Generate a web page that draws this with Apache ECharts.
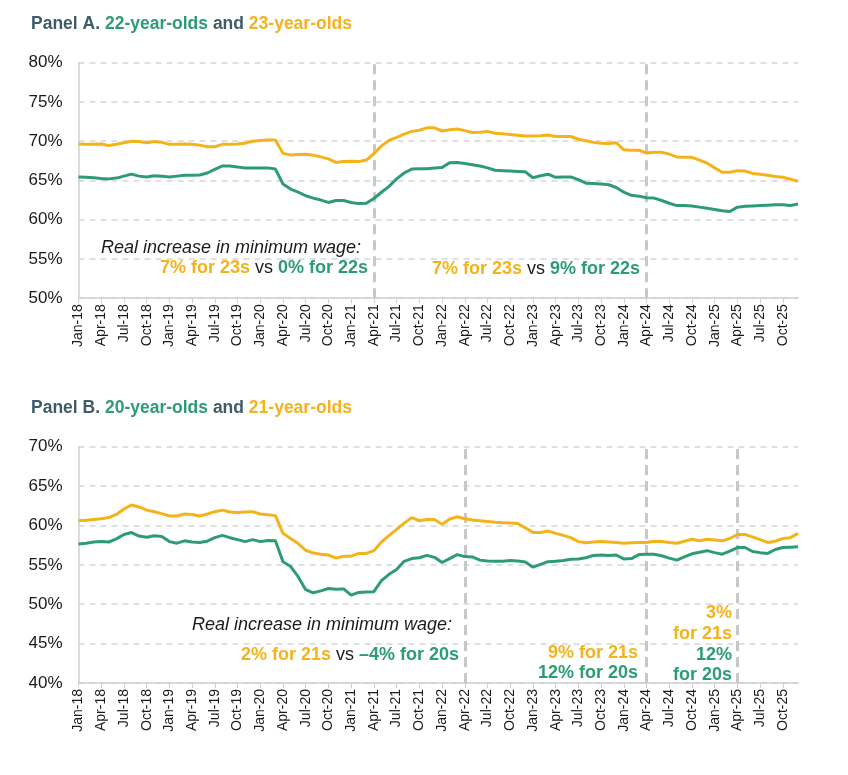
<!DOCTYPE html>
<html>
<head>
<meta charset="utf-8">
<script src="https://cdn.jsdelivr.net/npm/echarts@6/dist/echarts.min.js"></script>
<style>html,body{margin:0;padding:0;background:#fff}#c{width:848px;height:775px}</style>
</head>
<body>
<div id="c"></div>
<script>
const months = [
'Jan-18','Feb-18','Mar-18','Apr-18','May-18','Jun-18','Jul-18','Aug-18','Sep-18','Oct-18','Nov-18','Dec-18',
'Jan-19','Feb-19','Mar-19','Apr-19','May-19','Jun-19','Jul-19','Aug-19','Sep-19','Oct-19','Nov-19','Dec-19',
'Jan-20','Feb-20','Mar-20','Apr-20','May-20','Jun-20','Jul-20','Aug-20','Sep-20','Oct-20','Nov-20','Dec-20',
'Jan-21','Feb-21','Mar-21','Apr-21','May-21','Jun-21','Jul-21','Aug-21','Sep-21','Oct-21','Nov-21','Dec-21',
'Jan-22','Feb-22','Mar-22','Apr-22','May-22','Jun-22','Jul-22','Aug-22','Sep-22','Oct-22','Nov-22','Dec-22',
'Jan-23','Feb-23','Mar-23','Apr-23','May-23','Jun-23','Jul-23','Aug-23','Sep-23','Oct-23','Nov-23','Dec-23',
'Jan-24','Feb-24','Mar-24','Apr-24','May-24','Jun-24','Jul-24','Aug-24','Sep-24','Oct-24','Nov-24','Dec-24',
'Jan-25','Feb-25','Mar-25','Apr-25','May-25','Jun-25','Jul-25','Aug-25','Sep-25','Oct-25','Nov-25','Dec-25'
];

// Panel A: 23-year-olds (yellow) and 22-year-olds (green)
const panelA_23 = [
69.65,69.6,69.6,69.65,69.45,69.6,69.8,70.0,69.95,69.8,
69.95,69.85,69.6,69.6,69.65,69.6,69.5,69.3,69.3,69.6,
69.6,69.65,69.75,70.0,70.1,70.15,70.15,68.45,68.25,68.3,
68.35,68.2,68.0,67.75,67.3,67.4,67.45,67.4,67.6,68.4,
69.4,70.1,70.5,70.9,71.25,71.4,71.7,71.7,71.3,71.45,
71.55,71.35,71.1,71.15,71.25,71.0,70.95,70.85,70.75,70.65,
70.65,70.7,70.8,70.6,70.6,70.6,70.25,70.05,69.85,69.75,
69.7,69.8,68.9,68.85,68.85,68.5,68.6,68.6,68.35,68.0,
67.95,67.95,67.6,67.2,66.6,66.05,66.05,66.25,66.2,65.9,
65.8,65.65,65.5,65.4,65.15,64.9
];
const panelA_22 = [
65.45,65.4,65.35,65.25,65.2,65.3,65.55,65.8,65.55,65.45,
65.6,65.55,65.45,65.55,65.65,65.65,65.7,65.95,66.4,66.85,
66.85,66.7,66.6,66.6,66.6,66.6,66.45,64.55,63.9,63.5,
63.05,62.75,62.5,62.2,62.45,62.45,62.2,62.05,62.1,62.7,
63.5,64.25,65.2,65.95,66.45,66.5,66.5,66.6,66.65,67.25,
67.3,67.15,67.0,66.85,66.6,66.3,66.25,66.2,66.15,66.1,
65.35,65.6,65.8,65.4,65.45,65.45,65.1,64.65,64.6,64.55,
64.45,64.1,63.5,63.1,63.0,62.8,62.75,62.45,62.1,61.8,
61.8,61.75,61.6,61.45,61.3,61.15,61.05,61.6,61.7,61.75,
61.8,61.85,61.9,61.9,61.8,62.0
];

// Panel B: 21-year-olds (yellow) and 20-year-olds (green)
const panelB_21 = [
60.6,60.65,60.75,60.85,61.0,61.4,62.1,62.6,62.35,61.95,
61.75,61.5,61.2,61.2,61.45,61.4,61.2,61.45,61.75,61.95,
61.7,61.65,61.7,61.75,61.45,61.35,61.25,59.0,58.35,57.7,
56.85,56.5,56.35,56.25,55.85,56.1,56.1,56.45,56.45,56.8,
57.9,58.7,59.5,60.3,61.0,60.6,60.75,60.75,60.15,60.8,
61.1,60.85,60.7,60.6,60.5,60.4,60.35,60.3,60.25,59.7,
59.1,59.1,59.3,59.0,58.75,58.45,57.95,57.8,57.9,57.95,
57.9,57.85,57.75,57.8,57.85,57.85,58.0,57.95,57.85,57.75,
58.0,58.25,58.05,58.25,58.15,58.05,58.35,58.85,58.85,58.55,
58.2,57.85,58.0,58.35,58.45,59.0
];
const panelB_20 = [
57.65,57.75,57.9,57.95,57.9,58.3,58.85,59.1,58.65,58.5,
58.7,58.6,57.95,57.75,58.05,57.9,57.85,58.0,58.45,58.75,
58.45,58.2,57.95,58.2,57.95,58.1,58.05,55.4,54.8,53.5,
51.85,51.45,51.7,52.0,51.9,51.95,51.15,51.5,51.55,51.6,
53.0,53.8,54.4,55.45,55.8,55.9,56.2,55.95,55.3,55.8,
56.3,56.05,56.0,55.6,55.5,55.45,55.45,55.55,55.5,55.35,
54.7,55.05,55.4,55.45,55.55,55.7,55.75,55.9,56.2,56.25,
56.2,56.25,55.75,55.8,56.3,56.35,56.35,56.15,55.85,55.6,
56.0,56.4,56.6,56.8,56.55,56.35,56.75,57.2,57.2,56.7,
56.55,56.45,56.95,57.2,57.25,57.3
];

const policyLinesA = ['Apr-21','Apr-24'];
const policyLinesB = ['Apr-22','Apr-24','Apr-25'];

const YEL = '#f4b31b', GRN = '#2e9c73', SLATE = '#3e5b68', TXT = '#1a1a1a';
const FONT = '"Liberation Sans", Arial, sans-serif';

function xAxisFor(idx){
  return {
    type:'category', gridIndex:idx, data:months, boundaryGap:false,
    axisLine:{show:true, lineStyle:{color:'#d0d0d0', width:1.5}},
    axisTick:{show:true, interval:2, length:5, lineStyle:{color:'#d0d0d0'}},
    axisLabel:{interval:2, rotate:90, fontSize:14, color:TXT, fontFamily:FONT, margin:6},
    splitLine:{show:false}
  };
}
function yAxisFor(idx, min, max){
  return {
    type:'value', gridIndex:idx, min:min, max:max, interval:5,
    axisLine:{show:true, lineStyle:{color:'#d0d0d0', width:1.5}},
    axisTick:{show:false},
    axisLabel:{formatter:'{value}%', fontSize:17, color:TXT, fontFamily:FONT, margin:16},
    splitLine:{show:true, lineStyle:{color:'#d6d6d6', type:[6,5], width:1.5}}
  };
}
function lineSeries(idx, data, color, marks){
  const s = {
    type:'line', xAxisIndex:idx, yAxisIndex:idx, data:data, symbol:'none',
    lineStyle:{color:color, width:3}, itemStyle:{color:color}, z:3, silent:true
  };
  if (marks) {
    s.markLine = {
      silent:true, symbol:'none', label:{show:false}, z:1,
      lineStyle:{color:'#c8c8c8', type:[10,6], width:3},
      data: marks.map(m => ({xAxis:m}))
    };
  }
  return s;
}

const chart = echarts.init(document.getElementById('c'), null, {renderer:'canvas'});
const AF = 18;
const boldRich = {
  y:{fill:YEL, fontWeight:'bold', fontSize:AF, fontFamily:FONT},
  g:{fill:GRN, fontWeight:'bold', fontSize:AF, fontFamily:FONT},
  k:{fill:TXT, fontWeight:'normal', fontSize:AF, fontFamily:FONT}
};
const titleRich = {
  s:{color:SLATE, fontWeight:'bold', fontSize:17.5, fontFamily:FONT},
  g:{color:GRN, fontWeight:'bold', fontSize:17.5, fontFamily:FONT},
  y:{color:YEL, fontWeight:'bold', fontSize:17.5, fontFamily:FONT}
};
function txt(x, y, text, align, rich, style){
  return {type:'text', x:x, y:y, style:Object.assign({text:text, align:align, verticalAlign:'middle', rich:rich, font:'bold '+AF+'px '+FONT, fill:TXT}, style||{})};
}

chart.setOption({
  animation:false,
  backgroundColor:'#fff',
  title:[
    {text:'{s|Panel A. }{g|22-year-olds}{s| and }{y|23-year-olds}', left:26, top:10, textStyle:{rich:titleRich}},
    {text:'{s|Panel B. }{g|20-year-olds}{s| and }{y|21-year-olds}', left:26, top:394, textStyle:{rich:titleRich}}
  ],
  grid:[
    {left:78.5, right:50, top:62.7, height:235.5},
    {left:78.5, right:50, top:446.7, height:236.3}
  ],
  xAxis:[xAxisFor(0), xAxisFor(1)],
  yAxis:[yAxisFor(0,50,80), yAxisFor(1,40,70)],
  series:[
    lineSeries(0, panelA_22, GRN, policyLinesA),
    lineSeries(0, panelA_23, YEL),
    lineSeries(1, panelB_20, GRN, policyLinesB),
    lineSeries(1, panelB_21, YEL)
  ],
  graphic:[
    txt(361, 248, 'Real increase in minimum wage:', 'right', null, {font:'italic '+AF+'px '+FONT, fill:TXT}),
    txt(368, 268, '{y|7% for 23s} {k|vs} {g|0% for 22s}', 'right', boldRich),
    txt(432, 269, '{y|7% for 23s} {k|vs} {g|9% for 22s}', 'left', boldRich),
    txt(452, 625, 'Real increase in minimum wage:', 'right', null, {font:'italic '+AF+'px '+FONT, fill:TXT}),
    txt(459, 655, '{y|2% for 21s} {k|vs} {g|\u20134% for 20s}', 'right', boldRich),
    txt(638, 653, '{y|9% for 21s}', 'right', boldRich),
    txt(638, 673, '{g|12% for 20s}', 'right', boldRich),
    txt(732, 613, '{y|3%}', 'right', boldRich),
    txt(732, 634, '{y|for 21s}', 'right', boldRich),
    txt(732, 655, '{g|12%}', 'right', boldRich),
    txt(732, 675, '{g|for 20s}', 'right', boldRich)
  ]
});
</script>
</body>
</html>
